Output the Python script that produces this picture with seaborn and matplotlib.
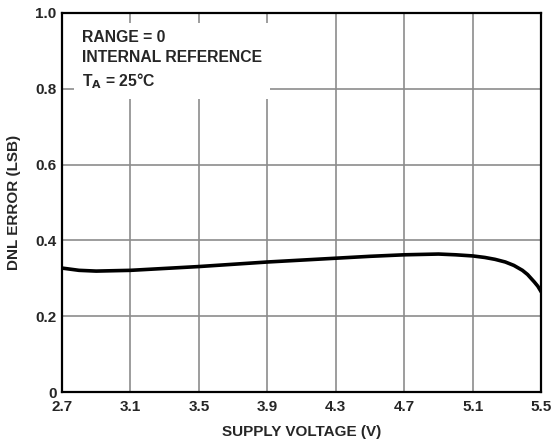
import matplotlib
matplotlib.use("Agg")
import matplotlib.pyplot as plt
import seaborn as sns
import pandas as pd

supply_v = [2.70, 2.80, 2.90, 3.10, 3.30, 3.50, 3.70, 3.90, 4.10, 4.30, 4.50, 4.70, 4.90,
            5.00, 5.10, 5.17, 5.23, 5.29, 5.34, 5.39, 5.42, 5.44, 5.46, 5.48, 5.50]
dnl_lsb = [0.327, 0.321, 0.319, 0.321, 0.326, 0.331, 0.337, 0.343, 0.348, 0.353, 0.358, 0.362, 0.364,
           0.362, 0.359, 0.355, 0.350, 0.343, 0.334, 0.321, 0.310, 0.300, 0.290, 0.279, 0.264]
x_ticks = [2.7, 3.1, 3.5, 3.9, 4.3, 4.7, 5.1, 5.5]
y_ticks = [0, 0.2, 0.4, 0.6, 0.8, 1.0]
y_tick_labels = ["0", "0.2", "0.4", "0.6", "0.8", "1.0"]

sns.set_style("white")
plt.rcParams["font.family"] = ["Liberation Sans", "DejaVu Sans"]

df = pd.DataFrame({"v": supply_v, "dnl": dnl_lsb})

fig = plt.figure(figsize=(5.58, 4.48), dpi=100)
ax = fig.add_axes([0.111, 0.125, 0.859, 0.846])

sns.lineplot(data=df, x="v", y="dnl", ax=ax, color="black", linewidth=2.6, zorder=3)

ax.set_xlim(2.7, 5.5)
ax.set_ylim(0, 1.0)
ax.set_xticks(x_ticks)
ax.set_xticklabels([f"{t:.1f}" for t in x_ticks], fontweight="bold", fontsize=11)
ax.set_yticks(y_ticks)
ax.set_yticklabels(y_tick_labels, fontweight="bold", fontsize=11)
ax.tick_params(axis="both", length=0, pad=4)
ax.tick_params(axis="x", pad=6)
ax.grid(True, color="#8c8c8c", linewidth=1.2, zorder=1)
for s in ax.spines.values():
    s.set_color("black")
    s.set_linewidth(1.6)
    s.set_zorder(4)

ax.set_xlabel("SUPPLY VOLTAGE (V)", fontweight="bold", fontsize=11, labelpad=8)
ax.set_ylabel("DNL ERROR (LSB)", fontweight="bold", fontsize=11, labelpad=10)

ax.text(0.042, 0.955, "RANGE = 0\nINTERNAL REFERENCE\nT$_\\mathbf{A}$ = 25°C",
        transform=ax.transAxes, fontsize=11.3, fontweight="bold", va="top", ha="left",
        linespacing=1.42, zorder=2,
        bbox=dict(facecolor="white", edgecolor="none", pad=6))

fig.savefig("out.png", dpi=100)
